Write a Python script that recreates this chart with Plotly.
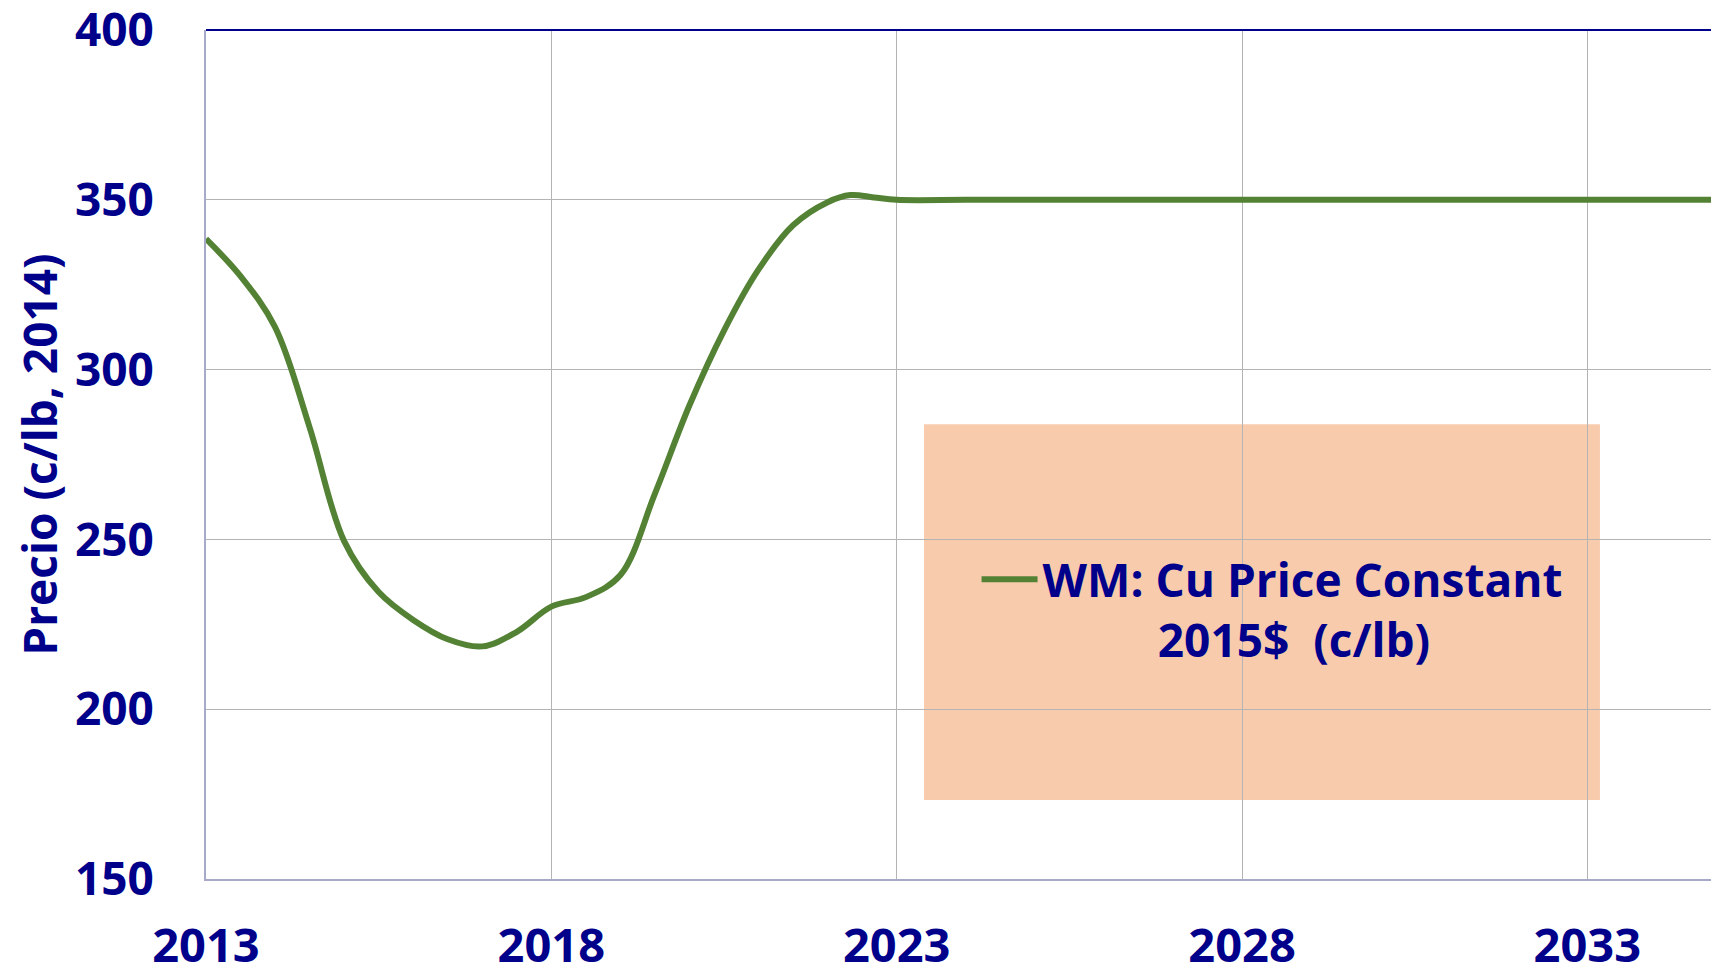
import plotly.graph_objects as go

# Data
years = [2013.0, 2013.5, 2014.0, 2014.5, 2015.0, 2015.5, 2016.0, 2016.5, 2017.0,
         2017.5, 2018.0, 2018.5, 2019.0, 2019.5, 2020.0, 2020.5, 2021.0, 2021.5,
         2022.0, 2022.33, 2022.67, 2023.0, 2024.0, 2025.0, 2026.0, 2027.0, 2028.0,
         2029.0, 2030.0, 2031.0, 2032.0, 2033.0, 2034.0, 2035.0]
price = [338.5, 327.5, 312.5, 283.0, 249.5, 234.5, 226.3, 220.6, 218.5,
         222.8, 230.2, 233.0, 239.5, 263.5, 289.5, 311.5, 329.5, 342.5,
         349.3, 351.4, 350.7, 350.0, 350.0, 350.0, 350.0, 350.0, 350.0,
         350.0, 350.0, 350.0, 350.0, 350.0, 350.0, 350.0]

series_name = ("WM: Cu Price Constant<br>" + "\u00a0" * 9 + "\u2006"
               + "2015$\u00a0\u00a0(c/lb)")
y_title = "Precio (c/lb, 2014)"
x_ticks = [2013, 2018, 2023, 2028, 2033]
y_ticks = [150, 200, 250, 300, 350, 400]

NAVY = "#00008B"
GREEN = "#548235"
FONT = "Open Sans"

fig = go.Figure()
fig.add_trace(go.Scatter(
    x=years, y=price, mode="lines", name=series_name,
    line=dict(color=GREEN, width=6, shape="spline", smoothing=1.0),
))

fig.update_layout(
    width=1703, height=954,
    margin=dict(l=198, r=0, t=22, b=83, autoexpand=False),
    paper_bgcolor="white", plot_bgcolor="white",
    showlegend=True,
    legend=dict(
        x=0.512, y=0.396, xanchor="left", yanchor="top",
        bgcolor="rgba(0,0,0,0)", valign="top", itemwidth=56,
        font=dict(family=FONT, size=46, color=NAVY, weight="bold"),
    ),
    shapes=[
        dict(type="rect", xref="paper", yref="paper",
             x0=0.4771, x1=0.9262, y0=0.093, y1=0.5357,
             fillcolor="#F8CBAD", line=dict(width=0), layer="below"),
        dict(type="line", xref="paper", yref="paper",
             x0=0, x1=1, y0=1, y1=1, line=dict(color=NAVY, width=2)),
    ],
)

fig.update_xaxes(
    range=[2013, 2034.79], tickvals=x_ticks, ticktext=[str(v) for v in x_ticks],
    showgrid=True, gridcolor="#B4B4B4", gridwidth=1.3,
    showline=True, linecolor="#A8A8C8", linewidth=2,
    ticks="", ticklabelstandoff=25, zeroline=False, automargin=False,
    ticklabeloverflow="allow",
    tickfont=dict(family=FONT, size=47, color=NAVY, weight="bold"),
)
fig.update_yaxes(
    range=[150, 400], tickvals=y_ticks,
    showgrid=True, gridcolor="#B4B4B4", gridwidth=1.3,
    showline=True, linecolor="#A8A8C8", linewidth=2,
    ticks="", ticklabelstandoff=41, zeroline=False, automargin=False,
    ticklabeloverflow="allow",
    tickfont=dict(family=FONT, size=46, color=NAVY, weight="bold"),
    title=dict(text=y_title, standoff=15,
               font=dict(family=FONT, size=46, color=NAVY, weight="bold")),
)

fig.write_html("out.html")
